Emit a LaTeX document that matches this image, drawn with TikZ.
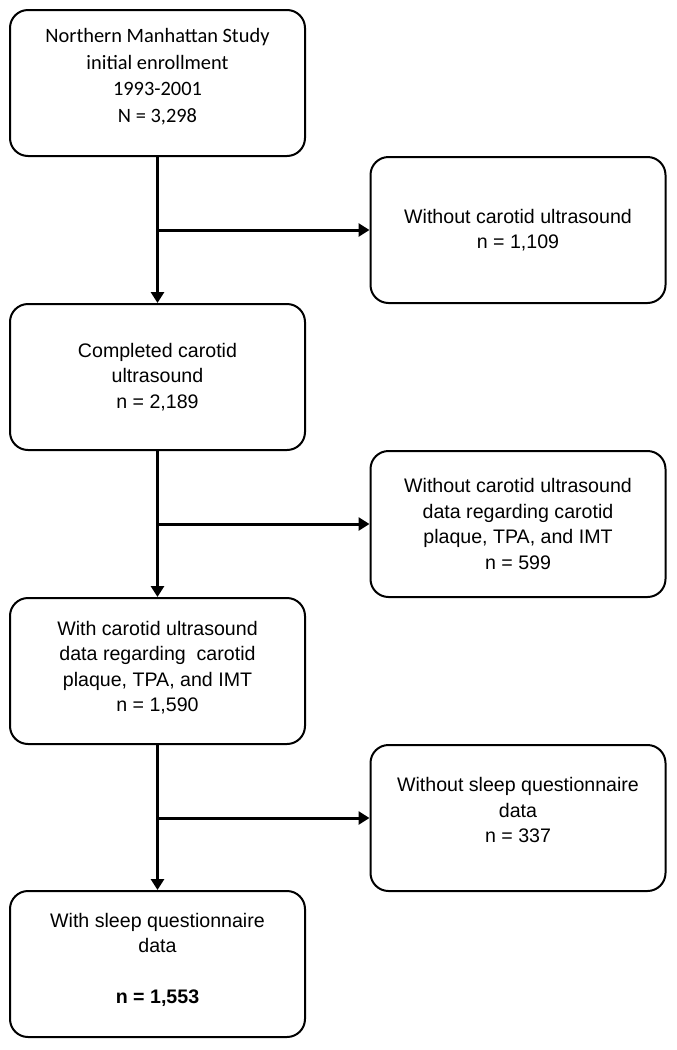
\documentclass[tikz,border=0pt]{standalone}
\usepackage{fontspec}
\setmainfont{Liberation Sans}
\newfontfamily\calfont{Carlito}
\usetikzlibrary{arrows.meta}
\tikzset{
  flowbox/.style={draw,line width=2pt,rounded corners=18pt,align=center,
    minimum width=295pt,minimum height=146pt,inner sep=0pt},
  flowline/.style={line width=3pt,-{Triangle[length=11pt,width=13pt]}}
}
\begin{document}
\begin{tikzpicture}[x=1pt,y=-1pt,font=\fontsize{19.6}{25.5}\selectfont]
  \useasboundingbox (0,0) rectangle (677,1050);
  % left column
  \node[flowbox,text depth=15pt,font=\calfont\fontsize{20.4}{26.8}\selectfont] (enroll) at (157.5,83)
    {Northern Manhattan Study\\initial enrollment\\1993-2001\\N = 3,298};
  \node[flowbox] (carotid) at (157.5,377) {Completed carotid\\ultrasound\\n = 2,189};
  \node[flowbox,text depth=9pt] (plaque) at (157.5,671)
    {With carotid ultrasound\\data regarding\ \ carotid\\plaque, TPA, and IMT\\n = 1,590};
  \node[flowbox,text depth=12pt] (sleep) at (157.5,964)
    {With sleep questionnaire\\data\\[25pt]\textbf{n = 1,553}};
  % right column
  \node[flowbox] (nocarotid) at (518,230) {Without carotid ultrasound\\n = 1,109};
  \node[flowbox] (noplaque) at (518,524)
    {Without carotid ultrasound\\data regarding carotid\\plaque, TPA, and IMT\\n = 599};
  \node[flowbox,text depth=16pt] (nosleep) at (518,818) {Without sleep questionnaire\\data\\n = 337};
  % arrows
  \draw[flowline] (enroll) -- (carotid);
  \draw[flowline] (carotid) -- (plaque);
  \draw[flowline] (plaque) -- (sleep);
  \draw[flowline] (enroll.south |- nocarotid.west) -- (nocarotid.west);
  \draw[flowline] (carotid.south |- noplaque.west) -- (noplaque.west);
  \draw[flowline] (plaque.south |- nosleep.west) -- (nosleep.west);
\end{tikzpicture}
\end{document}
